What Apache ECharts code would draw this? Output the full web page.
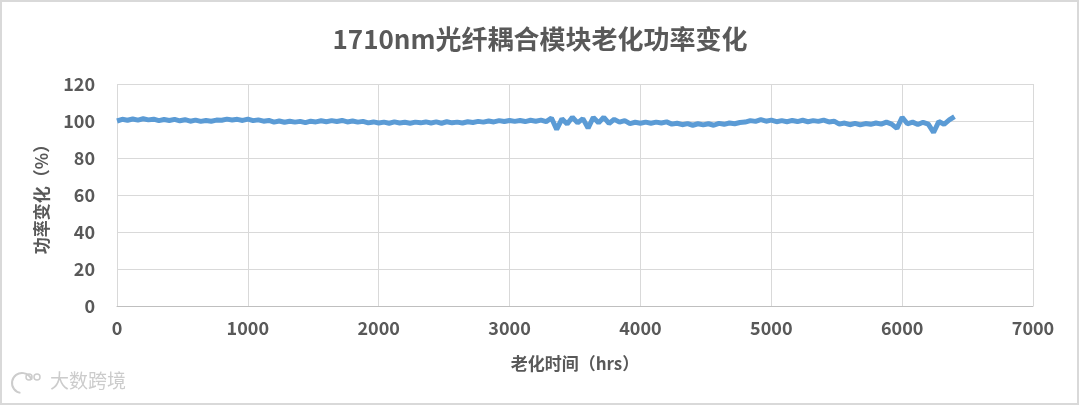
<!DOCTYPE html>
<html>
<head>
<meta charset="utf-8">
<script src="https://cdn.jsdelivr.net/npm/echarts@6/dist/echarts.min.js"></script>
<style>
    html, body { margin: 0; padding: 0; background: #fff; }
    #main { width: 1080px; height: 406px; }
</style>
</head>
<body>
<div id="main"></div>
<script>
    // 老化时间 (hrs)
    var hours = [
        0, 40, 80, 120, 160, 200, 240, 280, 320, 360,
        400, 440, 480, 520, 560, 600, 640, 680, 720, 760,
        800, 840, 880, 920, 960, 1000, 1040, 1080, 1120, 1160,
        1200, 1240, 1280, 1320, 1360, 1400, 1440, 1480, 1520, 1560,
        1600, 1640, 1680, 1720, 1760, 1800, 1840, 1880, 1920, 1960,
        2000, 2040, 2080, 2120, 2160, 2200, 2240, 2280, 2320, 2360,
        2400, 2440, 2480, 2520, 2560, 2600, 2640, 2680, 2720, 2760,
        2800, 2840, 2880, 2920, 2960, 3000, 3040, 3080, 3120, 3160,
        3200, 3240, 3280, 3320, 3360, 3400, 3440, 3480, 3520, 3560,
        3600, 3640, 3680, 3720, 3760, 3800, 3840, 3880, 3920, 3960,
        4000, 4040, 4080, 4120, 4160, 4200, 4240, 4280, 4320, 4360,
        4400, 4440, 4480, 4520, 4560, 4600, 4640, 4680, 4720, 4760,
        4800, 4840, 4880, 4920, 4960, 5000, 5040, 5080, 5120, 5160,
        5200, 5240, 5280, 5320, 5360, 5400, 5440, 5480, 5520, 5560,
        5600, 5640, 5680, 5720, 5760, 5800, 5840, 5880, 5920, 5960,
        6000, 6040, 6080, 6120, 6160, 6200, 6240, 6280, 6320, 6360,
        6400
    ];
    // 功率变化 (%)
    var power = [
        100.0, 100.9, 100.4, 101.1, 100.5, 101.2, 100.6, 101.0, 100.2, 100.8,
        100.3, 100.9, 100.1, 100.7, 99.9, 100.5, 99.8, 100.3, 99.9, 100.5,
        100.4, 101.0, 100.5, 100.9, 100.3, 101.0, 100.2, 100.6, 99.9, 100.3,
        99.4, 100.0, 99.3, 99.9, 99.4, 99.8, 99.1, 99.9, 99.5, 100.1,
        99.6, 100.2, 99.7, 100.3, 99.5, 100.0, 99.4, 99.8, 99.0, 99.5,
        98.9, 99.4, 98.8, 99.5, 98.9, 99.3, 98.8, 99.4, 99.0, 99.5,
        98.9, 99.5, 98.8, 99.6, 99.0, 99.4, 98.9, 99.6, 99.2, 99.8,
        99.4, 100.0, 99.5, 100.2, 99.7, 100.3, 99.8, 100.3, 99.7, 100.4,
        99.9, 100.5, 99.7, 101.6, 95.5, 101.2, 98.4, 102.0, 99.0, 101.3,
        96.2, 101.9, 99.0, 102.0, 98.7, 100.9, 99.4, 100.2, 98.6, 99.3,
        98.8, 99.4, 98.8, 99.4, 98.9, 99.5, 98.3, 98.8, 98.0, 98.6,
        97.7, 98.5, 97.9, 98.5, 97.7, 98.7, 98.2, 98.9, 98.5, 99.2,
        99.4, 100.2, 99.8, 100.7, 99.9, 100.5, 99.6, 100.2, 99.6, 100.3,
        99.7, 100.4, 99.6, 100.2, 99.8, 100.5, 99.5, 99.9, 98.3, 98.9,
        98.0, 98.7, 97.9, 98.6, 98.2, 98.9, 98.3, 99.4, 98.3, 96.0,
        102.0, 98.5, 99.4, 98.1, 99.3, 98.3, 93.8, 99.7, 98.2, 100.6,
        102.4
    ];

    var textColor = '#595959';
    var fontCJK = '"Noto Sans CJK SC", "Noto Sans", sans-serif';

    var seriesData = [];
    for (var i = 0; i < hours.length; i++) {
        seriesData.push([hours[i], power[i]]);
    }

    var chart = echarts.init(document.getElementById('main'));
    var option = {
        backgroundColor: '#fff',
        animation: false,
        title: {
            text: '1710nm光纤耦合模块老化功率变化',
            left: 'center',
            top: 21,
            textStyle: {
                color: textColor,
                fontSize: 26,
                fontWeight: 'bold',
                fontFamily: fontCJK
            }
        },
        grid: {
            left: 117,
            right: 47,
            top: 84,
            bottom: 100
        },
        xAxis: {
            type: 'value',
            min: 0,
            max: 7000,
            interval: 1000,
            name: '老化时间（hrs）',
            nameLocation: 'middle',
            nameGap: 49,
            nameTextStyle: {
                color: textColor,
                fontSize: 17,
                fontWeight: 'bold',
                fontFamily: fontCJK
            },
            axisLine: { show: true, lineStyle: { color: '#bfbfbf', width: 1 } },
            axisTick: { show: false },
            axisLabel: {
                color: textColor,
                fontSize: 18,
                fontWeight: 'bold',
                fontFamily: fontCJK,
                margin: 13,
                formatter: function (v) { return String(v); }
            },
            splitLine: { show: true, lineStyle: { color: '#d9d9d9', width: 1 } }
        },
        yAxis: {
            type: 'value',
            min: 0,
            max: 120,
            interval: 20,
            name: '功率变化（%）',
            nameLocation: 'middle',
            nameGap: 67,
            nameTextStyle: {
                color: textColor,
                fontSize: 17,
                fontWeight: 'bold',
                fontFamily: fontCJK
            },
            axisLine: { show: false },
            axisTick: { show: false },
            axisLabel: {
                color: textColor,
                fontSize: 18,
                fontWeight: 'bold',
                fontFamily: fontCJK,
                margin: 22
            },
            splitLine: { show: true, lineStyle: { color: '#d9d9d9', width: 1 } }
        },
        series: [
            {
                type: 'line',
                data: seriesData,
                showSymbol: false,
                lineStyle: { color: '#5b9bd5', width: 5 },
                itemStyle: { color: '#5b9bd5' }
            }
        ],
        graphic: [
            {
                type: 'rect',
                shape: { x: 1, y: 1, width: 1077, height: 403 },
                style: { fill: 'none', stroke: '#d9d9d9', lineWidth: 2 },
                silent: true
            },
            {
                type: 'arc',
                shape: { cx: 22, cy: 383, r: 10, startAngle: Math.PI * 0.55, endAngle: Math.PI * 1.9 },
                style: { stroke: '#cccccc', lineWidth: 2, fill: 'none' },
                silent: true
            },
            {
                type: 'circle',
                shape: { cx: 29, cy: 377, r: 3 },
                style: { stroke: '#cccccc', lineWidth: 1.5, fill: 'none' },
                silent: true
            },
            {
                type: 'circle',
                shape: { cx: 37, cy: 377, r: 3 },
                style: { stroke: '#cccccc', lineWidth: 1.5, fill: 'none' },
                silent: true
            },
            {
                type: 'text',
                left: 50,
                top: 371,
                style: {
                    text: '大数跨境',
                    fill: '#cccccc',
                    fontSize: 19,
                    fontFamily: fontCJK
                },
                silent: true
            }
        ]
    };
    chart.setOption(option);
</script>
</body>
</html>
